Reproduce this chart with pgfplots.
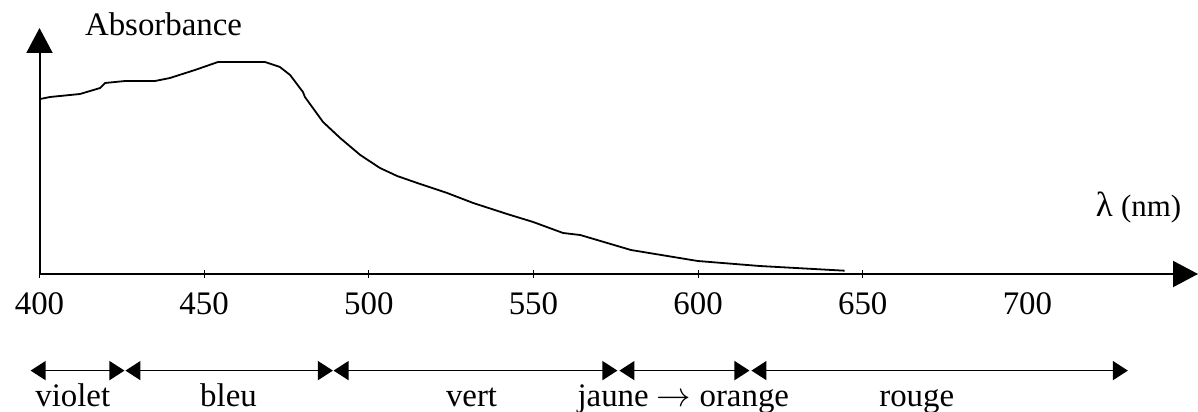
\documentclass[border=0pt]{standalone}
\usepackage{fontspec}
\setmainfont{Liberation Serif}
\usepackage{pgfplots}
\pgfplotsset{compat=1.18}
\usetikzlibrary{arrows.meta}

% absorbance spectrum, y in arbitrary units
\pgfplotstableread{
nm     A
400.2  175
403.2  177
412.3  180
418.4  186
419.9  191
426.0  193
435.1  193
439.6  196
447.2  204
454.2  212
468.5  212
473.0  207
476.1  199
480.0  182
480.6  177
486.1  152
491.3  136
497.4  119
503.4  106
508.6  98
515.6  90
523.8  81
531.7  71
542.0  60
549.9  52
559.0  41
564.2  39
579.6  24
599.9  13
618.7  8
644.5  3.3
}\spectre

\tikzset{
  big/.style={-{Triangle[length=12.5bp,width=13bp]}},
  band/.style={{Triangle[length=7.5bp,width=9.5bp]}-{Triangle[length=7.5bp,width=9.5bp]}, line width=0.75bp},
}

\begin{document}
\begin{tikzpicture}[font=\fontsize{16.5}{20}\selectfont]
\begin{axis}[
  at={(19.75bp,69bp)}, anchor=south west,
  scale only axis, width=579.25bp, height=123bp,
  xmin=400, xmax=751.8, ymin=0, ymax=246,
  axis lines=left,
  axis line style={big, line width=1bp},
  clip=false,
  ytick=\empty,
  xtick={400,450,...,650},
  extra x ticks={700},
  extra x tick style={major tick style={draw=none}},
  tick align=center,
  major tick length=4bp,
  tick style={line width=0.6bp, black},
  /pgf/number format/assume math mode=true,
  xticklabel style={font=\fontsize{16.5}{20}\selectfont, anchor=north, inner sep=0pt, yshift=-7bp},
]
\addplot[line width=0.9bp, black] table[x=nm, y=A] {\spectre};

\node[anchor=base west] at (axis cs:411.7,238) {Absorbance};
\node[anchor=base east] at (axis cs:748.8,58) {{\fontsize{17.5}{20}\selectfont λ} {\fontsize{15.5}{18}\selectfont (nm)}};

\draw[band] (axis cs:397.3,-96.6) -- (axis cs:425.8,-96.6);
\draw[band] (axis cs:426.1,-96.6) -- (axis cs:489.1,-96.6);
\draw[band] (axis cs:489.3,-96.6) -- (axis cs:575.5,-96.6);
\draw[band] (axis cs:576.1,-96.6) -- (axis cs:615.6,-96.6);
\draw[band] (axis cs:616.2,-96.6) -- (axis cs:730.5,-96.6);

\node[anchor=base] at (axis cs:410.1,-132) {violet};
\node[anchor=base] at (axis cs:457.4,-132) {bleu};
\node[anchor=base] at (axis cs:531.2,-132) {vert};
\node[anchor=base] at (axis cs:595.5,-132) {jaune $\rightarrow$ orange};
\node[anchor=base] at (axis cs:666.4,-132) {rouge};
\end{axis}
\pgfresetboundingbox
\path[use as bounding box] (0,0) rectangle (599bp,206bp);
\end{tikzpicture}
\end{document}
